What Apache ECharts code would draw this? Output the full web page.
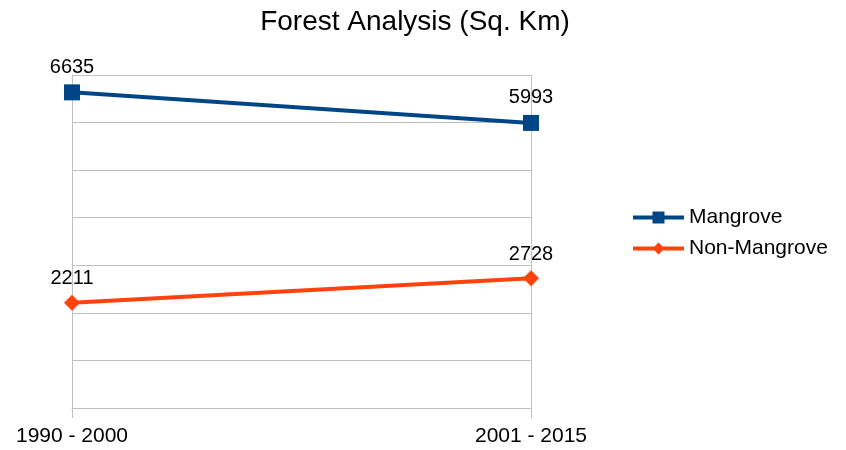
<!DOCTYPE html>
<html>
<head>
<meta charset="utf-8">
<script src="https://cdn.jsdelivr.net/npm/echarts@6/dist/echarts.min.js"></script>
<style>html,body{margin:0;padding:0;background:#fff}#c{width:846px;height:450px}</style>
</head>
<body>
<div id="c"></div>
<script>
const categories = ['1990 - 2000', '2001 - 2015'];
const mangrove = [6635, 5993];
const nonMangrove = [2211, 2728];
const seriesNames = ['Mangrove', 'Non-Mangrove'];

const chart = echarts.init(document.getElementById('c'));
const gridColor = '#c0c0c0';
const font = '"Liberation Sans", Arial, sans-serif';
chart.setOption({
  animation: false,
  backgroundColor: '#fff',
  textStyle: { fontFamily: font },
  title: {
    text: 'Forest Analysis (Sq. Km)',
    left: 410, top: 3, textAlign: 'center',
    textStyle: { fontFamily: font, fontSize: 28, fontWeight: 'normal', color: '#000' }
  },
  legend: {
    orient: 'vertical', left: 626, top: 202,
    itemWidth: 51, itemHeight: 15, itemGap: 10,
    lineStyle: { width: 4 },
    textStyle: { fontFamily: font, fontSize: 21, color: '#000' },
    data: seriesNames
  },
  grid: { left: 72, right: 315, top: 75, bottom: 42, containLabel: false },
  xAxis: {
    type: 'category', data: categories, boundaryGap: false,
    axisLine: { lineStyle: { color: gridColor } },
    axisTick: { show: true, length: 10, lineStyle: { color: gridColor } },
    splitLine: { show: true, lineStyle: { color: gridColor } },
    axisLabel: { fontFamily: font, fontSize: 21, color: '#000', margin: 18 }
  },
  yAxis: {
    type: 'value', min: 0, max: 7000, interval: 1000,
    axisLine: { show: true, lineStyle: { color: gridColor } },
    axisTick: { show: false },
    axisLabel: { show: false },
    splitLine: { show: true, lineStyle: { color: gridColor } }
  },
  series: [
    {
      name: seriesNames[0], type: 'line', data: mangrove,
      symbol: 'rect', symbolSize: 16,
      lineStyle: { color: '#004586', width: 4 },
      itemStyle: { color: '#004586' },
      label: { show: true, position: 'top', distance: 7, fontFamily: font, fontSize: 20, color: '#000' }
    },
    {
      name: seriesNames[1], type: 'line', data: nonMangrove,
      symbol: 'diamond', symbolSize: 16,
      lineStyle: { color: '#ff420e', width: 4 },
      itemStyle: { color: '#ff420e' },
      label: { show: true, position: 'top', distance: 6, fontFamily: font, fontSize: 20, color: '#000' }
    }
  ]
});
</script>
</body>
</html>
